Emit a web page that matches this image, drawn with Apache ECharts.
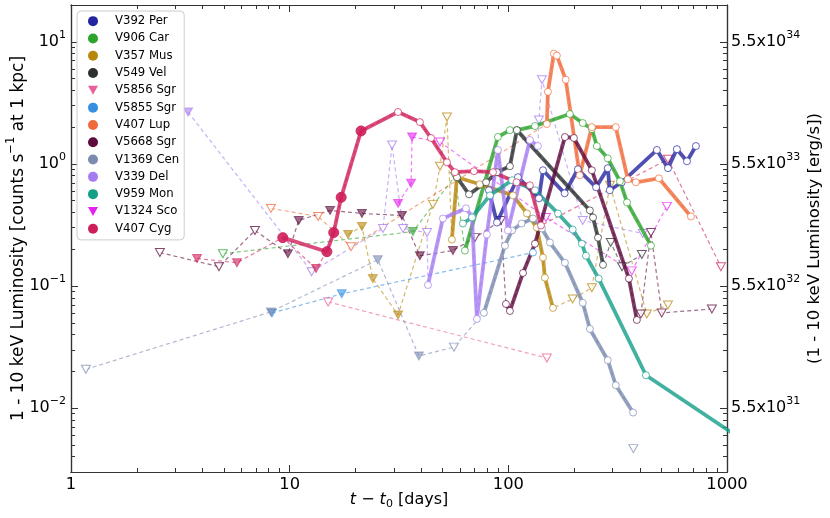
<!DOCTYPE html>
<html><head><meta charset="utf-8">
<script src="https://cdn.jsdelivr.net/npm/echarts@6/dist/echarts.min.js"></script>
<style>html,body{margin:0;padding:0;background:#fff}#c{width:830px;height:518px}</style>
</head><body><div id="c"></div>
<script>
// ---------- DATA: [t - t0 (days), counts/s at 1 kpc, filled?] ----------
const V392Per_det = [[81.5,0.608],[88.7,0.331],[110.6,0.778],[138,0.522],[144,0.887],[181,0.574],[208,0.904],[252,0.643],[285,0.922],[291,0.608],[330,0.707],[478,1.30],[537,0.922],[590,1.32],[656,1.05],[721,1.40]];
const V392Per_ul = [];
const V906Car_det = [[63.3,0.195],[89.6,1.66],[101.7,1.89],[109.4,1.89],[132.4,2.04],[191,2.56],[219,2.16],[241,1.93],[254,1.40],[285,1.11],[324,0.721],[349,0.484],[449,0.214]];
const V906Car_ul = [[4.95,0.184,0],[36.6,0.279,1],[57,0.79,0]];
const V357Mus_det = [[55.2,0.240],[58.2,0.777],[74.1,0.681],[105,0.552],[121.6,0.393],[135,0.301],[144,0.171],[147,0.117],[160,0.0662]];
const V357Mus_ul = [[18.5,0.264,1],[21.4,0.307,1],[24.0,0.115,1],[31.3,0.058,1],[45.2,0.466,0],[48.7,0.957,0],[52.4,2.42,0],[197,0.0783,0],[241,0.0968,0],[291.5,0.668,0],[430,0.059,0],[537,0.070,0]];
const V549Vel_det = [[58.2,0.777],[66.1,0.563],[79.1,0.707],[88.7,0.855],[101.7,0.957],[109.4,1.89],[236,0.416],[244,0.364],[257,0.249],[271,0.149]];
const V549Vel_ul = [[294,0.227,0],[331,0.144,0],[408,0.181,0]];
const V5856Sgr_det = [];
const V5856Sgr_ul = [[15.0,0.0741,0],[150,0.0257,0]];
const V5855Sgr_det = [[129.6,0.188]];
const V5855Sgr_ul = [[8.3,0.0601,1],[17.3,0.0863,1]];
const V407Lup_det = [[150,2.12],[151.7,3.89],[161.5,8.0],[166.7,7.7],[183,4.89],[212,0.807],[241,2.0],[310,2.0],[352,0.748],[383,0.707],[488,0.762],[684,0.371]];
const V407Lup_ul = [[8.21,0.432,0],[13.5,0.371,0],[19.1,0.210,0]];
const V5668Sgr_det = [[97.5,0.0713],[101.7,0.0625],[116.7,0.128],[132.4,0.222],[181.5,1.66],[199.5,1.63],[241,0.887],[356,0.115],[387,0.0527]];
const V5668Sgr_ul = [[2.55,0.188,0],[4.75,0.144,0],[6.94,0.285,0],[9.82,0.184,1],[11.0,0.344,1],[15.3,0.416,1],[21.4,0.393,1],[32.6,0.378,1],[39.4,0.177,1],[55.8,0.195,1],[70.3,0.249,0],[92.5,0.344,0],[404,0.059,0],[449,0.274,0],[503,0.0602,0],[853,0.0649,0]];
const V1369Cen_det = [[77.3,0.0603],[96.5,0.214],[104,0.285],[115,0.325],[129.6,0.357],[142.5,0.296],[155,0.227],[181.5,0.155],[219,0.0728],[236,0.0445],[285,0.0247],[310,0.0154],[372,0.0092]];
const V1369Cen_ul = [[1.17,0.0208,0],[8.2,0.0614,1],[25.3,0.164,1],[39.0,0.0267,1],[56.4,0.0316,0]];
const V1369Cen_ulLone = [[373,0.00466,0]];
const V339Del_det = [[42.9,0.102],[50.2,0.357],[64.0,0.433],[68.2,0.371],[71.8,0.0537],[79.8,0.264],[89.6,1.30],[99.5,0.285],[125.5,1.57],[136.5,1.40]];
const V339Del_ul = [[3.43,2.66,1],[12.6,0.131,0],[26.7,0.296,0],[29.4,1.43,0],[33.0,0.296,0],[42.5,0.274,0],[138,2.29,0],[142.5,4.89,0],[219,0.344,0],[412,0.269,0]];
const V959Mon_det = [[62.0,0.325],[68.2,0.364],[82.4,0.552],[104,0.735],[132.4,0.608],[168.6,0.393],[197,0.290],[217,0.222],[226.5,0.177],[259,0.115],[426,0.0186],[1080,0.0061]];
const V959Mon_ul = [];
const V1324Sco_det = [];
const V1324Sco_ul = [[31.3,0.475,1],[35.9,0.693,1],[36.3,1.66,1],[48.7,1.51,0],[148.6,0.364,0],[367,0.133,0],[531,0.449,0]];
const V407Cyg_det = [[9.3,0.249,1],[14.8,0.191,1],[15.9,0.274,1],[17.2,0.532,1],[21.2,1.86,1],[31.3,2.66,0],[39.4,2.20,0],[44.3,1.63,0],[52.4,1.03,0],[57.0,0.855,0],[69.6,0.871,0],[85.1,0.855,0],[109,0.707,0],[125.5,0.668,0],[141,0.313,0]];
const V407Cyg_ul = [[3.77,0.168,1],[5.74,0.155,1],[13.2,0.139,1],[537,1.09,0],[938,0.144,0]];

const novaNames = ['V392 Per','V906 Car','V357 Mus','V549 Vel','V5856 Sgr','V5855 Sgr','V407 Lup','V5668 Sgr','V1369 Cen','V339 Del','V959 Mon','V1324 Sco','V407 Cyg'];
const detSets = [V392Per_det,V906Car_det,V357Mus_det,V549Vel_det,V5856Sgr_det,V5855Sgr_det,V407Lup_det,V5668Sgr_det,V1369Cen_det,V339Del_det,V959Mon_det,V1324Sco_det,V407Cyg_det];
const ulSets  = [V392Per_ul,V906Car_ul,V357Mus_ul,V549Vel_ul,V5856Sgr_ul,V5855Sgr_ul,V407Lup_ul,V5668Sgr_ul,V1369Cen_ul,V339Del_ul,V959Mon_ul,V1324Sco_ul,V407Cyg_ul];
const loneSets = [[],[],[],[],[],[],[],[],V1369Cen_ulLone,[],[],[],[]];

// ticks
const xMajorTicks = [1,10,100,1000];
const xMinorTicks = [2,3,4,5,6,7,8,9,20,30,40,50,60,70,80,90,200,300,400,500,600,700,800,900];
const yMajorTicks = [0.01,0.1,1,10];
const yMinorTicks = [0.003,0.004,0.005,0.006,0.007,0.008,0.009,0.02,0.03,0.04,0.05,0.06,0.07,0.08,0.09,0.2,0.3,0.4,0.5,0.6,0.7,0.8,0.9,2,3,4,5,6,7,8,9];
const rightMantissa = '5.5';
const rightExponents = [31,32,33,34];

// ---------- STYLE ----------
const FONT = 'DejaVu Sans';
const colors = ['#2424a0','#2ca42c','#b8860b','#2c302f','#e8629a','#3590e0','#f06a3a','#5e0a3c','#7b8bb0','#a67cf0','#139e88','#e41ff0','#cf1f5b'];
const ulOnly = [false,false,false,false,true,false,false,false,false,false,false,true,false];

const rich = {
  b: {fontFamily: FONT, fontSize: 16, color: '#000', lineHeight: 18, verticalAlign: 'middle'},
  s: {fontFamily: FONT, fontSize: 11, color: '#000', lineHeight: 18, padding: [0,0,14,0], verticalAlign: 'middle'},
  i: {fontFamily: FONT, fontSize: 16, fontStyle: 'italic', color: '#000', lineHeight: 18, verticalAlign: 'middle'},
  u: {fontFamily: FONT, fontSize: 11, color: '#000', lineHeight: 18, padding: [8,0,0,0], verticalAlign: 'middle'}
};
const richName = {
  b: {fontFamily: FONT, fontSize: 17, color: '#000', lineHeight: 19, verticalAlign: 'middle'},
  s: {fontFamily: FONT, fontSize: 11.5, color: '#000', lineHeight: 19, padding: [0,0,14,0], verticalAlign: 'middle'}
};

function supLabel(v) {
  const e = Math.round(Math.log10(v));
  return '{b|10}{s|' + (e < 0 ? '\u2212' + (-e) : e) + '}';
}
function rightLabel(v) {
  const idx = Math.round(Math.log10(v)) + 2;
  return '{b|' + rightMantissa + 'x10}{s|' + rightExponents[idx] + '}';
}

const axisLineStyle = {color: '#333', width: 1.2};
const common = {type: 'log', logBase: 10, splitLine: {show: false}, minorTick: {show: false}, gridIndex: 0, nameMoveOverlap: false};

function xAxisDef(pos, ticks, len, withLabels) {
  return Object.assign({}, common, {
    min: 1, max: 1000, position: pos,
    axisLine: {show: true, onZero: false, lineStyle: axisLineStyle},
    axisTick: {show: true, inside: true, length: len, customValues: ticks, lineStyle: {color: '#333', width: 1}},
    axisLabel: withLabels ? {show: true, customValues: xMajorTicks, margin: 5, fontFamily: FONT, fontSize: 16.3, color: '#000', formatter: v => String(Math.round(v))} : {show: false},
    name: withLabels ? '{i|t}{b| \u2212 }{i|t}{u|0}{b| [days]}' : '',
    nameLocation: 'middle', nameGap: 19,
    nameTextStyle: {rich: rich}
  });
}
function yAxisDef(pos, ticks, len, labelMode) {
  const d = Object.assign({}, common, {
    min: 0.003, max: 20, position: pos,
    axisLine: {show: true, onZero: false, lineStyle: axisLineStyle},
    axisTick: {show: true, inside: true, length: len, customValues: ticks, lineStyle: {color: '#333', width: 1}},
    axisLabel: {show: false},
    nameLocation: 'middle', nameRotate: 90
  });
  if (labelMode === 'left') {
    d.axisLabel = {show: true, customValues: yMajorTicks, margin: 5, formatter: supLabel, rich: rich};
    d.name = '{b|1 - 10 keV Luminosity [counts s}{s|\u22121}{b| at 1 kpc]}';
    d.nameGap = 43;
    d.nameTextStyle = {rich: richName};
  } else if (labelMode === 'right') {
    d.axisLabel = {show: true, customValues: yMajorTicks, margin: 4, formatter: rightLabel, rich: rich};
    d.name = '(1 - 10 keV Luminosity [erg/s])';
    d.nameGap = 79;
    d.nameTextStyle = {fontFamily: FONT, fontSize: 16.5, color: '#000'};
  }
  return d;
}

function ulItem(p, color) {
  return {
    value: [p[0], p[1]], symbol: 'triangle', symbolRotate: 180, symbolSize: [9, 8],
    itemStyle: {color: p[2] ? color : '#ffffff', borderColor: color, borderWidth: 1, opacity: p[2] ? 0.6 : 0.75}
  };
}

// ---------- SERIES ----------
const series = [];
novaNames.forEach((name, k) => {
  const color = colors[k];
  const det = detSets[k], ul = ulSets[k], lone = loneSets[k];
  const merged = det.map(p => ({p: p, ul: false}))
    .concat(ul.map(p => ({p: p, ul: true})))
    .sort((a, b) => a.p[0] - b.p[0]);
  if (ul.length) {
    series.push({
      name: name, type: 'line', xAxisIndex: 0, yAxisIndex: 0, z: 2,
      itemStyle: {color: color},
      lineStyle: {type: [4, 3], width: 1.2, color: color, opacity: 0.6},
      data: merged.map(m => m.ul ? ulItem(m.p, color) : {value: [m.p[0], m.p[1]], symbol: 'none'})
    });
  }
  if (lone.length) {
    series.push({
      name: name, type: 'scatter', xAxisIndex: 0, yAxisIndex: 0, z: 2,
      itemStyle: {color: color},
      data: lone.map(p => ulItem(p, color))
    });
  }
  if (det.length) {
    series.push({
      name: name, type: 'line', xAxisIndex: 0, yAxisIndex: 0, z: 3,
      itemStyle: {color: color},
      lineStyle: {width: 3.8, color: color, opacity: 0.8},
      symbol: 'circle',
      data: det.map(p => p[2] ? {
        value: [p[0], p[1]], symbolSize: 10, itemStyle: {color: color, borderColor: color, opacity: 0.9}
      } : {
        value: [p[0], p[1]], symbolSize: 7, itemStyle: {color: '#ffffff', borderColor: color, borderWidth: 0.7, opacity: 1}
      })
    });
  }
});

const triDown = 'path://M0,0L10,0L5,9Z';
const option = {
  animation: false,
  backgroundColor: '#fff',
  grid: {left: 71, right: 103, top: 5, bottom: 46, containLabel: false, outerBoundsMode: 'none'},
  xAxis: [
    xAxisDef('bottom', xMajorTicks, 7, true),
    xAxisDef('bottom', xMinorTicks, 4, false),
    xAxisDef('top', xMajorTicks, 7, false),
    xAxisDef('top', xMinorTicks, 4, false)
  ],
  yAxis: [
    yAxisDef('left', yMajorTicks, 7, 'left'),
    yAxisDef('left', yMinorTicks, 4, null),
    yAxisDef('right', yMajorTicks, 7, 'right'),
    yAxisDef('right', yMinorTicks, 4, null)
  ],
  legend: {
    orient: 'vertical', left: 77, top: 11,
    itemWidth: 10, itemHeight: 10, itemGap: 5,
    padding: [4, 5, 5, 11],
    backgroundColor: 'rgba(255,255,255,0.85)', borderColor: '#cccccc', borderWidth: 1, borderRadius: 4,
    textStyle: {fontFamily: FONT, fontSize: 11.7, color: '#000', lineHeight: 12.3, padding: [0, 0, 0, 12]},
    selectedMode: false,
    data: novaNames.map((n, k) => ({name: n, icon: ulOnly[k] ? triDown : 'circle', itemStyle: {color: colors[k], opacity: 1, borderWidth: 0}}))
  },
  series: series
};
const chart = echarts.init(document.getElementById('c'), null, {renderer: 'canvas'});
chart.setOption(option);
</script>
</body></html>
